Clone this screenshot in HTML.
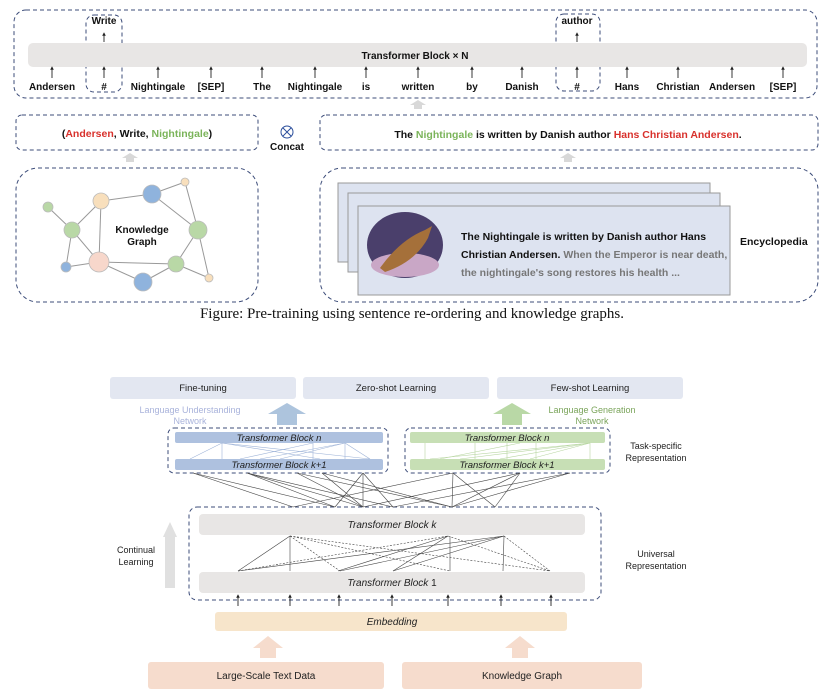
<!DOCTYPE html>
<html><head><meta charset="utf-8"><style>
html,body{margin:0;padding:0;background:#fff;}
svg{display:block;font-family:"Liberation Sans",sans-serif;}
</style></head><body>
<svg width="824" height="695" viewBox="0 0 824 695" xmlns="http://www.w3.org/2000/svg">
<defs>
<marker id="ah" viewBox="0 0 10 10" refX="5" refY="5" markerWidth="4" markerHeight="4" orient="auto"><path d="M0,0 L10,5 L0,10 z" fill="#222"/></marker>
</defs>
<g fill="none" stroke="#3d4d7a" stroke-width="1" stroke-dasharray="4,3">
<rect x="14" y="10" width="803" height="88" rx="12"/>
<rect x="86" y="15" width="36" height="77" rx="8"/>
<rect x="556" y="14" width="44" height="77" rx="8"/>
<rect x="16" y="115" width="242" height="35" rx="6"/>
<rect x="320" y="115" width="498" height="35" rx="6"/>
<rect x="16" y="168" width="242" height="134" rx="22"/>
<rect x="320" y="168" width="498" height="134" rx="22"/>
</g>
<rect x="28" y="43" width="779" height="24" rx="5" fill="#e8e6e5"/>
<text x="415" y="59" font-size="10" font-weight="bold" text-anchor="middle" fill="#111">Transformer Block × N</text>
<g font-size="10" font-weight="bold" fill="#111" text-anchor="middle">
<text x="104" y="24">Write</text><text x="577" y="24">author</text>
<text x="52" y="90">Andersen</text><text x="104" y="90">#</text><text x="158" y="90">Nightingale</text><text x="211" y="90">[SEP]</text><text x="262" y="90">The</text><text x="315" y="90">Nightingale</text><text x="366" y="90">is</text><text x="418" y="90">written</text><text x="472" y="90">by</text><text x="522" y="90">Danish</text><text x="577" y="90">#</text><text x="627" y="90">Hans</text><text x="678" y="90">Christian</text><text x="732" y="90">Andersen</text><text x="783" y="90">[SEP]</text>
</g>
<g stroke="#222" stroke-width="0.9" marker-end="url(#ah)">
<line x1="104" y1="42" x2="104" y2="34"/><line x1="577" y1="42" x2="577" y2="34"/>
<line x1="52" y1="78" x2="52" y2="68"/><line x1="104" y1="78" x2="104" y2="68"/><line x1="158" y1="78" x2="158" y2="68"/><line x1="211" y1="78" x2="211" y2="68"/><line x1="262" y1="78" x2="262" y2="68"/><line x1="315" y1="78" x2="315" y2="68"/><line x1="366" y1="78" x2="366" y2="68"/><line x1="418" y1="78" x2="418" y2="68"/><line x1="472" y1="78" x2="472" y2="68"/><line x1="522" y1="78" x2="522" y2="68"/><line x1="577" y1="78" x2="577" y2="68"/><line x1="627" y1="78" x2="627" y2="68"/><line x1="678" y1="78" x2="678" y2="68"/><line x1="732" y1="78" x2="732" y2="68"/><line x1="783" y1="78" x2="783" y2="68"/>
</g>
<g fill="#d8d8d8"><path d="M410,105 L418,100 L426,105 L422,105 L422,109 L414,109 L414,105z"/><path d="M122,158 L130,153 L138,158 L134,158 L134,162 L126,162 L126,158z"/><path d="M560,158 L568,153 L576,158 L572,158 L572,162 L564,162 L564,158z"/></g>
<text x="137" y="137" font-size="10.5" font-weight="bold" text-anchor="middle" fill="#111">(<tspan fill="#d8312c">Andersen</tspan>, Write, <tspan fill="#7bb45a">Nightingale</tspan>)</text>
<text x="568" y="138" font-size="10.5" font-weight="bold" text-anchor="middle" fill="#111">The <tspan fill="#7bb45a">Nightingale</tspan> is written by Danish author <tspan fill="#d8312c">Hans Christian Andersen</tspan>.</text>
<circle cx="287" cy="132" r="6" fill="none" stroke="#2c4f9c" stroke-width="1"/><path d="M283,128 L291,136 M291,128 L283,136" stroke="#2c4f9c" stroke-width="1"/>
<text x="287" y="150" font-size="10" font-weight="bold" text-anchor="middle" fill="#111">Concat</text>
<g stroke="#999" stroke-width="1">
<line x1="48" y1="207" x2="72" y2="230"/><line x1="72" y1="230" x2="101" y2="201"/><line x1="101" y1="201" x2="152" y2="194"/><line x1="152" y1="194" x2="185" y2="182"/><line x1="185" y1="182" x2="198" y2="230"/><line x1="152" y1="194" x2="198" y2="230"/><line x1="72" y1="230" x2="99" y2="262"/><line x1="101" y1="201" x2="99" y2="262"/><line x1="72" y1="230" x2="66" y2="267"/><line x1="66" y1="267" x2="99" y2="262"/><line x1="99" y1="262" x2="176" y2="264"/><line x1="99" y1="262" x2="143" y2="282"/><line x1="143" y1="282" x2="176" y2="264"/><line x1="198" y1="230" x2="176" y2="264"/><line x1="176" y1="264" x2="209" y2="278"/><line x1="198" y1="230" x2="209" y2="278"/>
</g>
<g stroke="#bbb" stroke-width="0.8">
<circle cx="48" cy="207" r="5" fill="#b9d8a6"/><circle cx="101" cy="201" r="8" fill="#f8dfbc"/><circle cx="152" cy="194" r="9" fill="#8fb3dd"/><circle cx="185" cy="182" r="4" fill="#f8dfbc"/><circle cx="72" cy="230" r="8" fill="#b9d8a6"/><circle cx="198" cy="230" r="9" fill="#b9d8a6"/><circle cx="99" cy="262" r="10" fill="#f7d7cb"/><circle cx="66" cy="267" r="5" fill="#8fb3dd"/><circle cx="176" cy="264" r="8" fill="#b9d8a6"/><circle cx="143" cy="282" r="9" fill="#8fb3dd"/><circle cx="209" cy="278" r="4" fill="#f8dfbc"/>
</g>
<text x="142" y="233" font-size="10" font-weight="bold" text-anchor="middle" fill="#111">Knowledge</text>
<text x="142" y="245" font-size="10" font-weight="bold" text-anchor="middle" fill="#111">Graph</text>
<g stroke="#999" stroke-width="1" fill="#dde3f0">
<rect x="338" y="183" width="372" height="79"/><rect x="348" y="193" width="372" height="79"/><rect x="358" y="206" width="372" height="89"/>
</g>
<ellipse cx="405" cy="245" rx="38" ry="33" fill="#4a3f6b"/>
<ellipse cx="405" cy="265" rx="34" ry="12" fill="#c9a7c6"/>
<path d="M380,268 Q400,240 425,230 L432,226 L428,238 Q415,262 385,272z" fill="#a5703a"/>
<g font-size="10.5" font-weight="bold">
<text x="461" y="240" fill="#111">The Nightingale is written by Danish author Hans</text>
<text x="461" y="258" fill="#111">Christian Andersen. <tspan fill="#777">When the Emperor is near death,</tspan></text>
<text x="461" y="276" fill="#777">the nightingale's song restores his health ...</text>
<text x="740" y="245" fill="#111">Encyclopedia</text>
</g>
<text x="412" y="318" font-size="15" font-family="Liberation Serif,serif" text-anchor="middle" fill="#111">Figure: Pre-training using sentence re-ordering and knowledge graphs.</text>

<g fill="#e3e7f1"><rect x="110" y="377" width="186" height="22" rx="3"/><rect x="303" y="377" width="186" height="22" rx="3"/><rect x="497" y="377" width="186" height="22" rx="3"/></g>
<g font-size="9.5" text-anchor="middle" fill="#222"><text x="203" y="391">Fine-tuning</text><text x="396" y="391">Zero-shot Learning</text><text x="590" y="391">Few-shot Learning</text></g>
<path d="M268,414 L287,403 L306,414 L297,414 L297,425 L277,425 L277,414z" fill="#adc4dd"/>
<path d="M493,414 L512,403 L531,414 L522,414 L522,425 L502,425 L502,414z" fill="#b9d8a6"/>
<g font-size="9" text-anchor="middle"><text x="190" y="413" fill="#a9b3db">Language Understanding</text><text x="190" y="424" fill="#a9b3db">Network</text><text x="592" y="413" fill="#7aa45a">Language Generation</text><text x="592" y="424" fill="#7aa45a">Network</text></g>
<g fill="none" stroke="#3d4d7a" stroke-dasharray="4,3"><rect x="168" y="428" width="220" height="45" rx="6"/><rect x="405" y="428" width="205" height="45" rx="6"/><rect x="189" y="507" width="412" height="93" rx="8"/></g>
<rect x="175" y="432" width="208" height="11" rx="2" fill="#aec1df"/><rect x="175" y="459" width="208" height="11" rx="2" fill="#aec1df"/>
<rect x="410" y="432" width="195" height="11" rx="2" fill="#c7dfb5"/><rect x="410" y="459" width="195" height="11" rx="2" fill="#c7dfb5"/>
<g stroke="#9fb4d8" stroke-width="0.6"><line x1="190" y1="459" x2="222" y2="443"/><line x1="222" y1="443" x2="320" y2="459"/><line x1="222" y1="443" x2="222" y2="459"/><line x1="240" y1="459" x2="313" y2="443"/><line x1="313" y1="443" x2="313" y2="459"/><line x1="260" y1="459" x2="345" y2="443"/><line x1="345" y1="443" x2="370" y2="459"/><line x1="280" y1="459" x2="345" y2="443"/><line x1="222" y1="443" x2="370" y2="459"/><line x1="345" y1="443" x2="345" y2="459"/></g>
<g stroke="#b8d6a2" stroke-width="0.6"><line x1="425" y1="443" x2="425" y2="459"/><line x1="430" y1="459" x2="590" y2="443"/><line x1="460" y1="459" x2="590" y2="443"/><line x1="500" y1="459" x2="590" y2="443"/><line x1="530" y1="459" x2="590" y2="443"/><line x1="475" y1="443" x2="475" y2="459"/><line x1="507" y1="443" x2="507" y2="459"/><line x1="536" y1="443" x2="536" y2="459"/><line x1="440" y1="459" x2="520" y2="443"/><line x1="590" y1="443" x2="590" y2="459"/></g>
<g font-size="9.5" font-style="italic" text-anchor="middle" fill="#222"><text x="279" y="441">Transformer Block n</text><text x="279" y="468">Transformer Block k+1</text><text x="507" y="441">Transformer Block n</text><text x="507" y="468">Transformer Block k+1</text></g>
<g font-size="9" text-anchor="middle" fill="#222"><text x="656" y="449">Task-specific</text><text x="656" y="461">Representation</text><text x="656" y="557">Universal</text><text x="656" y="569">Representation</text><text x="136" y="553">Continual</text><text x="136" y="565">Learning</text></g>
<g stroke="#444" stroke-width="0.6">
<line x1="193" y1="473" x2="293" y2="507"/><line x1="193" y1="473" x2="335" y2="507"/><line x1="247" y1="473" x2="335" y2="507"/><line x1="247" y1="473" x2="363" y2="507"/><line x1="247" y1="473" x2="393" y2="507"/><line x1="297" y1="473" x2="363" y2="507"/><line x1="297" y1="473" x2="452" y2="507"/><line x1="322" y1="473" x2="363" y2="507"/><line x1="322" y1="473" x2="452" y2="507"/><line x1="363" y1="473" x2="335" y2="507"/><line x1="363" y1="473" x2="363" y2="507"/><line x1="363" y1="473" x2="393" y2="507"/><line x1="453" y1="473" x2="293" y2="507"/><line x1="453" y1="473" x2="452" y2="507"/><line x1="453" y1="473" x2="495" y2="507"/><line x1="520" y1="473" x2="363" y2="507"/><line x1="520" y1="473" x2="452" y2="507"/><line x1="520" y1="473" x2="495" y2="507"/><line x1="570" y1="473" x2="393" y2="507"/><line x1="570" y1="473" x2="452" y2="507"/>
</g>
<rect x="199" y="514" width="386" height="21" rx="4" fill="#e8e6e5"/>
<rect x="199" y="572" width="386" height="21" rx="4" fill="#e8e6e5"/>
<g font-size="10" font-style="italic" text-anchor="middle" fill="#222"><text x="392" y="528">Transformer Block k</text><text x="392" y="586">Transformer Block <tspan font-style="normal">1</tspan></text></g>
<g stroke="#444" stroke-width="0.6">
<line x1="238" y1="571" x2="290" y2="536"/><line x1="290" y1="571" x2="290" y2="536"/><line x1="338" y1="571" x2="448" y2="536"/><line x1="393" y1="571" x2="448" y2="536"/><line x1="340" y1="571" x2="504" y2="536"/><line x1="393" y1="571" x2="504" y2="536"/><line x1="450" y1="571" x2="450" y2="536"/><line x1="503" y1="571" x2="504" y2="536"/><line x1="238" y1="571" x2="504" y2="536"/>
</g>
<g stroke="#444" stroke-width="0.6" stroke-dasharray="2,1.5">
<line x1="290" y1="536" x2="340" y2="571"/><line x1="290" y1="536" x2="450" y2="571"/><line x1="290" y1="536" x2="550" y2="571"/><line x1="238" y1="571" x2="448" y2="536"/><line x1="448" y1="536" x2="550" y2="571"/><line x1="504" y1="536" x2="550" y2="571"/>
</g>
<path d="M163,537 L170,522 L177,537 L175,537 L175,588 L165,588 L165,537z" fill="#e0e0e0"/>
<g stroke="#222" stroke-width="0.9" marker-end="url(#ah)"><line x1="238" y1="606" x2="238" y2="596"/><line x1="290" y1="606" x2="290" y2="596"/><line x1="339" y1="606" x2="339" y2="596"/><line x1="392" y1="606" x2="392" y2="596"/><line x1="448" y1="606" x2="448" y2="596"/><line x1="501" y1="606" x2="501" y2="596"/><line x1="551" y1="606" x2="551" y2="596"/></g>
<rect x="215" y="612" width="352" height="19" rx="3" fill="#f7e5cb"/>
<text x="392" y="625" font-size="10" font-style="italic" text-anchor="middle" fill="#222">Embedding</text>
<path d="M253,648 L268,636 L283,648 L276,648 L276,658 L260,658 L260,648z" fill="#f6dccd"/>
<path d="M505,648 L520,636 L535,648 L528,648 L528,658 L512,658 L512,648z" fill="#f6dccd"/>
<rect x="148" y="662" width="236" height="27" rx="3" fill="#f6dccd"/><rect x="402" y="662" width="240" height="27" rx="3" fill="#f6dccd"/>
<g font-size="10" text-anchor="middle" fill="#222"><text x="266" y="679">Large-Scale Text Data</text><text x="522" y="679">Knowledge Graph</text></g>
</svg>
</body></html>
